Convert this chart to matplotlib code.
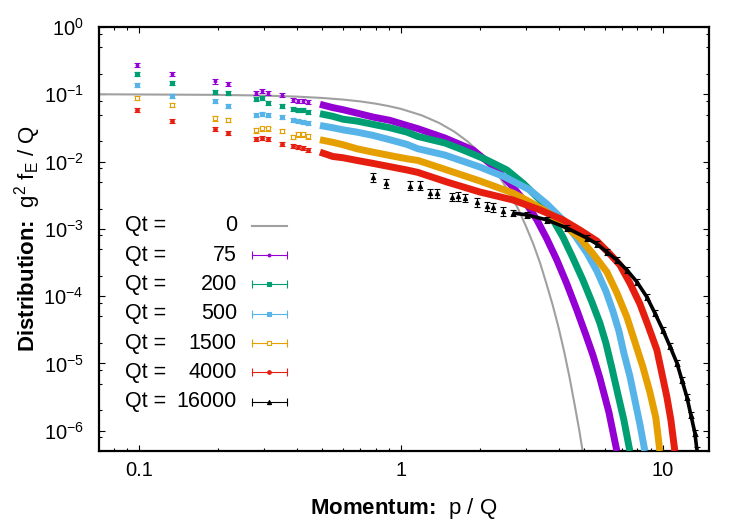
import numpy as np
import matplotlib
matplotlib.use("Agg")
import matplotlib.pyplot as plt
from matplotlib.lines import Line2D
from matplotlib.ticker import (LogLocator, NullFormatter, FixedLocator, FixedFormatter,
                               LogFormatterSciNotation)

plt.rcParams['font.family'] = ['Liberation Sans', 'DejaVu Sans']
plt.rcParams['mathtext.fontset'] = 'custom'
plt.rcParams['mathtext.rm'] = 'Liberation Sans'
plt.rcParams['mathtext.it'] = 'Liberation Sans:italic'
plt.rcParams['mathtext.bf'] = 'Liberation Sans:bold'

# Qt = 0 : initial distribution
p_init = [0.07, 0.2, 0.3, 0.4, 0.5, 0.6, 0.7, 0.8, 0.9, 1.0, 1.2, 1.4, 1.6, 1.8,
          2.0, 2.2, 2.4, 2.6, 2.8, 3.0, 3.2, 3.4, 3.6, 3.8, 4.0, 4.2, 4.4, 4.6,
          4.8, 5.0]
f_init = [0.1, 0.098, 0.0956, 0.0923, 0.0882, 0.0835, 0.0783, 0.0726, 0.0667,
          0.0607, 0.0487, 0.0375, 0.0278, 0.0198, 0.0135, 0.0089, 0.0056, 0.0034,
          0.0020, 0.0011, 6.0e-4, 3.1e-4, 1.5e-4, 7.3e-5, 3.4e-5, 1.5e-5, 6.3e-6,
          2.5e-6, 1.0e-6, 3.7e-7]

# sparse lattice momenta at low p (same for every time)
p_low = [0.098, 0.134, 0.196, 0.219, 0.279, 0.294, 0.310, 0.353, 0.388, 0.406,
         0.424, 0.443]

# Qt = 75
f75_low = [0.274, 0.199, 0.155, 0.143, 0.105, 0.113, 0.106, 0.099, 0.083, 0.0795,
           0.0795, 0.078]
p75 = [0.491, 0.550, 0.601, 0.679, 0.782, 0.908, 1.054, 1.161, 1.472, 1.883, 2.245,
       2.676, 3.000, 3.305, 3.608, 3.938, 4.301, 4.697, 5.084, 5.405, 5.748, 6.221,
       6.674]
f75 = [0.071, 0.0633, 0.059, 0.0526, 0.0459, 0.041, 0.0344, 0.0308, 0.0224, 0.0149,
       8.6e-3, 4.2e-3, 2.43e-3, 1.36e-3, 7.1e-4, 3.45e-4, 1.52e-4, 6.2e-5, 2.65e-5,
       1.34e-5, 6.1e-6, 1.9e-6, 5.0e-7]

# Qt = 200
f200_low = [0.199, 0.148, 0.108, 0.1035, 0.084, 0.088, 0.074, 0.0678, 0.0613, 0.059,
            0.058, 0.054]
p200 = [0.491, 0.550, 0.601, 0.679, 0.782, 0.908, 1.054, 1.161, 1.472, 1.725, 2.092,
        2.539, 2.948, 3.393, 3.771, 4.152, 4.534, 4.951, 5.358, 5.748, 6.059, 6.388,
        6.734, 7.098, 7.482]
f200 = [0.0515, 0.047, 0.0426, 0.040, 0.0358, 0.0318, 0.0274, 0.0236, 0.0189, 0.0149,
        0.0109, 7.5e-3, 4.64e-3, 2.69e-3, 1.45e-3, 7.6e-4, 3.7e-4, 1.74e-4, 8.2e-5,
        4.0e-5, 2.02e-5, 8.6e-6, 3.5e-6, 1.45e-6, 5.0e-7]

# Qt = 500
f500_low = [0.138, 0.094, 0.0787, 0.0678, 0.050, 0.051, 0.050, 0.046, 0.042, 0.040,
            0.0387, 0.0373]
p500 = [0.491, 0.550, 0.601, 0.679, 0.782, 0.908, 1.054, 1.161, 1.472, 2.002, 2.494,
        3.108, 3.608, 4.152, 4.655, 5.129, 5.599, 6.059, 6.445, 6.795, 7.098, 7.482,
        7.818, 8.170, 8.537]
f500 = [0.0344, 0.0318, 0.0296, 0.0274, 0.0245, 0.0211, 0.018, 0.0155, 0.0125, 8.3e-3,
        5.9e-3, 3.78e-3, 2.34e-3, 1.36e-3, 7.6e-4, 4.38e-4, 2.37e-4, 1.19e-4, 6.0e-5,
        3.04e-5, 1.43e-5, 6.5e-6, 2.87e-6, 1.26e-6, 5.0e-7]

# Qt = 1500
f1500_low = [0.089, 0.0686, 0.0438, 0.0414, 0.029, 0.031, 0.031, 0.0287, 0.0233,
             0.0253, 0.0253, 0.0236]
p1500 = [0.491, 0.550, 0.601, 0.679, 0.782, 0.908, 1.054, 1.161, 1.498, 2.002, 2.676,
         3.108, 3.608, 4.152, 4.823, 5.453, 6.113, 6.674, 7.288, 7.818, 8.389, 8.920,
         9.404, 9.739]
f1500 = [0.0211, 0.0193, 0.0178, 0.0155, 0.0138, 0.0123, 0.011, 0.0104, 7.5e-3,
         5.15e-3, 3.41e-3, 2.51e-3, 1.78e-3, 1.18e-3, 7.3e-4, 4.1e-4, 2.29e-4, 1.12e-4,
         4.9e-5, 2.09e-5, 8.9e-6, 3.77e-6, 1.55e-6, 5.0e-7]

# Qt = 4000
f4000_low = [0.058, 0.040, 0.0304, 0.0268, 0.0218, 0.0223, 0.0218, 0.0181, 0.0173,
             0.0163, 0.0158, 0.0150]
p4000 = [0.491, 0.550, 0.601, 0.679, 0.782, 0.908, 1.054, 1.161, 1.498, 2.002, 2.676,
         3.393, 4.152, 4.823, 5.599, 6.277, 6.854, 7.482, 8.170, 8.765, 9.487, 9.91,
         10.36, 10.73, 11.11]
f4000 = [0.0138, 0.0119, 0.0114, 0.0104, 9.4e-3, 8.4e-3, 7.5e-3, 6.9e-3, 4.97e-3,
         3.53e-3, 2.69e-3, 1.91e-3, 1.36e-3, 9.6e-4, 6.6e-4, 4.23e-4, 2.91e-4, 1.57e-4,
         7.7e-5, 3.73e-5, 1.59e-5, 7.2e-6, 3.18e-6, 1.45e-6, 5.0e-7]

# Qt = 16000
p16000_low = [0.782, 0.877, 1.082, 1.182, 1.290, 1.372, 1.566, 1.651, 1.755, 1.950,
              2.129, 2.244, 2.45]
f16000_low = [5.8e-3, 4.8e-3, 4.4e-3, 4.4e-3, 3.4e-3, 3.4e-3, 3.0e-3, 3.1e-3, 2.9e-3,
              2.5e-3, 2.2e-3, 2.1e-3, 1.85e-3]
p16000 = [2.676, 3.027, 3.608, 4.301, 5.129, 5.599, 6.113, 6.674, 7.288, 7.958, 8.689,
          9.321, 10.0, 10.63, 11.31, 11.82, 12.35, 12.79, 13.25, 13.49]
f16000 = [1.72e-3, 1.61e-3, 1.36e-3, 1.03e-3, 7.3e-4, 5.97e-4, 4.54e-4, 3.45e-4,
          2.45e-4, 1.63e-4, 9.7e-5, 5.6e-5, 3.15e-5, 1.82e-5, 1.02e-5, 5.7e-6, 3.18e-6,
          1.72e-6, 9.3e-7, 5.2e-7]

labels = ['0', '75', '200', '500', '1500', '4000', '16000']
colors = ['#a0a0a0', '#9400d3', '#009e73', '#56b4e9', '#e69f00', '#e51e10', 'black']
markers = ['', 'o', 's', 's', 's', 'o', '^']
msizes = [0, 2.0, 2.6, 3.0, 3.2, 2.6, 3.0]
mfaces = [None, '#9400d3', '#009e73', '#56b4e9', 'white', '#e51e10', 'black']

xticks = [0.1, 1, 10]
xticklabels = ['0.1', '1', '10']
yticks = [1e-6, 1e-5, 1e-4, 1e-3, 1e-2, 1e-1, 1.0]

fig = plt.figure(figsize=(7.5, 5.25), dpi=100)
ax = fig.add_axes([0.132, 0.141, 0.8133, 0.8076])
ax.set_xscale('log')
ax.set_yscale('log')

ax.plot(p_init, f_init, color=colors[0], lw=1.5, zorder=2)

series = [
    (p_low, f75_low, p75, f75, 0.07),
    (p_low, f200_low, p200, f200, 0.07),
    (p_low, f500_low, p500, f500, 0.07),
    (p_low, f1500_low, p1500, f1500, 0.07),
    (p_low, f4000_low, p4000, f4000, 0.07),
    (p16000_low, f16000_low, p16000, f16000, 0.15),
]

for i, (pl, fl, pb, fb, err) in enumerate(series, start=1):
    c = colors[i]
    black = (i == 6)
    ax.plot(pb, fb, color=c, lw=2.6 if black else 5.0,
            solid_capstyle='butt', solid_joinstyle='round', zorder=3 + i)
    fl = np.array(fl)
    ax.errorbar(pl, fl, yerr=err * fl, fmt=markers[i], color=c, ms=msizes[i],
                mfc=mfaces[i], mew=0.8, elinewidth=0.8, capsize=2.5,
                capthick=0.8, zorder=3 + i)
    if black:
        fb = np.array(fb)
        ax.errorbar(pb, fb, yerr=0.1 * fb, fmt=markers[i], color=c, ms=msizes[i],
                    mew=0.8, elinewidth=0.8, capsize=2.5, capthick=0.8,
                    zorder=3 + i)

ax.set_xlim(0.0704, 15.0)
ax.set_ylim(5.0e-7, 1.0)

# ticks, gnuplot style
ax.xaxis.set_major_locator(FixedLocator(xticks))
ax.xaxis.set_major_formatter(FixedFormatter(xticklabels))
ax.xaxis.set_minor_locator(LogLocator(base=10, subs=np.arange(2, 10)))
ax.xaxis.set_minor_formatter(NullFormatter())
ax.yaxis.set_major_locator(FixedLocator(yticks))
ax.yaxis.set_major_formatter(LogFormatterSciNotation())
ax.yaxis.set_minor_locator(LogLocator(base=10, subs=(2.0, 5.0, 8.0), numticks=20))
ax.yaxis.set_minor_formatter(NullFormatter())
ax.tick_params(which='both', direction='in', top=True, right=True, width=0.8)
ax.tick_params(which='major', length=4.5)
ax.tick_params(which='minor', length=2.4)
ax.tick_params(axis='x', which='major', pad=7, labelsize=14.5)
ax.tick_params(axis='y', which='major', pad=11, labelsize=14.5)
for s in ax.spines.values():
    s.set_linewidth(1.6)

ax.set_xlabel(r'Momentum:  $\mathrm{p\ /\ Q}$', fontsize=16, fontweight='bold',
              labelpad=12)
ax.set_ylabel(r'Distribution:  $\mathrm{g^2\ f_E\ /\ Q}$', fontsize=16,
              fontweight='bold', labelpad=0)

# key, drawn gnuplot-like (text left, sample right)
key_y0 = 0.531
key_dy = 0.0691
for i, lab in enumerate(labels):
    y = key_y0 - i * key_dy
    ax.text(0.043, y, 'Qt =', transform=ax.transAxes, ha='left', va='center',
            fontsize=15.5)
    ax.text(0.226, y, lab, transform=ax.transAxes, ha='right', va='center',
            fontsize=15.5)
    if i == 0:
        ax.add_line(Line2D([0.251, 0.308], [y, y], color=colors[0], lw=1.5,
                           transform=ax.transAxes))
        continue
    ax.add_line(Line2D([0.251, 0.308], [y, y], color=colors[i], lw=0.8,
                       transform=ax.transAxes))
    ax.add_line(Line2D([0.251, 0.308], [y, y], ls='none', marker='|', ms=6,
                       mew=0.8, color=colors[i], transform=ax.transAxes))
    ax.add_line(Line2D([0.2795], [y], ls='none', marker=markers[i], ms=msizes[i],
                       mfc=mfaces[i], mew=0.8, color=colors[i],
                       transform=ax.transAxes))

fig.savefig('out.png', dpi=100)
